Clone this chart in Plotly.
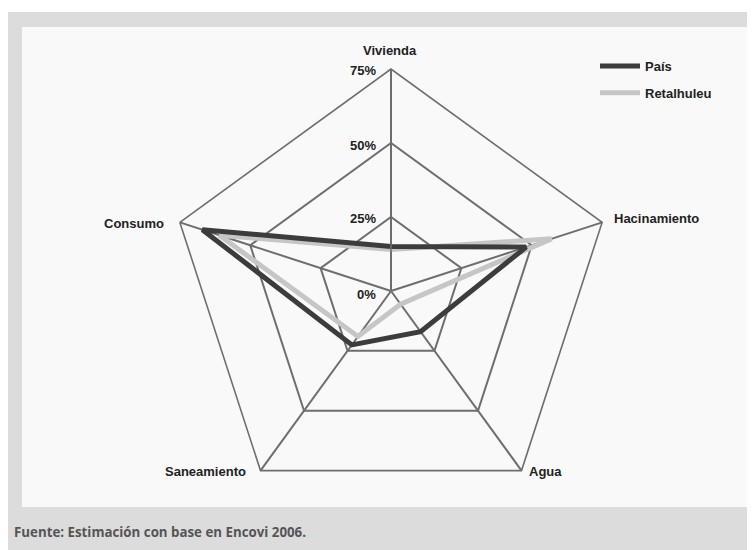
import plotly.graph_objects as go

categories = ["Vivienda", "Hacinamiento", "Agua", "Saneamiento", "Consumo"]
pais = [15, 48, 17, 22.5, 67]
retalhuleu = [14, 57, 5.5, 19, 61]
radial_ticks = [0, 25, 50, 75]
radial_labels = ["0%", "25%", "50%", "75%"]
footer = "Fuente: Estimación con base en Encovi 2006."

# page offset (browser body margin) compensation
OFF = 8
W, H = 755 - OFF, 550 - OFF
cx, cy, R = 391, 291, 222
RMAX = 75


def px(x, y):
    return (x - OFF) / W, 1 - (y - OFF) / H


LBL_FONT = dict(family="Liberation Sans Narrow, Arial Narrow, Arial", size=13, color="#222")

fig = go.Figure()


def closed(v):
    return list(v) + [v[0]]


fig.add_trace(go.Scatterpolar(
    r=closed(retalhuleu), theta=closed(categories), mode="lines",
    line=dict(color="#c6c6c6", width=5), name="<b>Retalhuleu</b>",
    legendgroup="b", legendrank=2))
fig.add_trace(go.Scatterpolar(
    r=closed(pais), theta=closed(categories), mode="lines",
    line=dict(color="#3c3c3c", width=5), name="<b>País</b>",
    legendgroup="a", legendrank=1))

x0, y1 = px(cx - R, cy - R)
x1, y0 = px(cx + R, cy + R)
lx, ly = px(595, 51)
bx0, by1 = px(22, 27)
bx1, by0 = px(752, 507)
_, wy = px(0, 12)

fig.update_layout(
    width=W, height=H,
    margin=dict(l=0, r=0, t=0, b=0),
    paper_bgcolor="#dcdcdc",
    showlegend=True,
    legend=dict(x=lx, y=ly, xanchor="left", yanchor="top",
                bgcolor="rgba(0,0,0,0)", font=dict(family=LBL_FONT["family"], size=13, color="#222"),
                tracegroupgap=7, itemwidth=40),
    polar=dict(
        domain=dict(x=[x0, x1], y=[y0, y1]),
        bgcolor="rgba(0,0,0,0)",
        gridshape="linear",
        radialaxis=dict(range=[0, RMAX], tickvals=radial_ticks,
                        angle=90, showticklabels=False,
                        showline=True, linecolor="#6e6e6e", linewidth=1.6,
                        gridcolor="#6e6e6e", gridwidth=1.6, ticks=""),
        angularaxis=dict(direction="clockwise", rotation=90,
                         showline=True, linecolor="#6e6e6e", linewidth=1.6,
                         gridcolor="#6e6e6e", gridwidth=1.6, ticks="",
                         showticklabels=False),
    ),
    shapes=[dict(type="rect", xref="paper", yref="paper",
                 x0=0, x1=1, y0=wy, y1=1,
                 fillcolor="white", line=dict(width=0), layer="below"),
            dict(type="rect", xref="paper", yref="paper",
                 x0=bx0, x1=bx1, y0=by0, y1=by1,
                 fillcolor="#f9f9f9", line=dict(width=0), layer="below")],
)

label_pos = {
    "Vivienda": (390, 50, "center"),
    "Hacinamiento": (612, 218, "left"),
    "Agua": (545, 471, "center"),
    "Saneamiento": (205, 471, "center"),
    "Consumo": (166, 223, "right"),
}
for c in categories:
    x, y, a = label_pos[c]
    ax, ay = px(x, y)
    fig.add_annotation(x=ax, y=ay, xref="paper", yref="paper",
                       text="<b>" + c + "</b>", showarrow=False, xanchor=a, yanchor="middle",
                       font=LBL_FONT)

# radial tick labels, left of the vertical axis
for v, t in zip(radial_ticks, radial_labels):
    ty = cy - R * v / RMAX + (3 if v == 0 else 2)
    ax, ay = px(378, ty)
    fig.add_annotation(x=ax, y=ay, xref="paper", yref="paper",
                       text="<b>" + t + "</b>", showarrow=False, xanchor="right", yanchor="middle",
                       font=LBL_FONT)

fx, fy = px(12, 532)
fig.add_annotation(x=fx, y=fy, xref="paper", yref="paper",
                   text="<b>" + footer + "</b>", showarrow=False, xanchor="left", yanchor="middle",
                   font=dict(family="Open Sans", size=13.3, color="#555"))

fig.write_html("out.html")
